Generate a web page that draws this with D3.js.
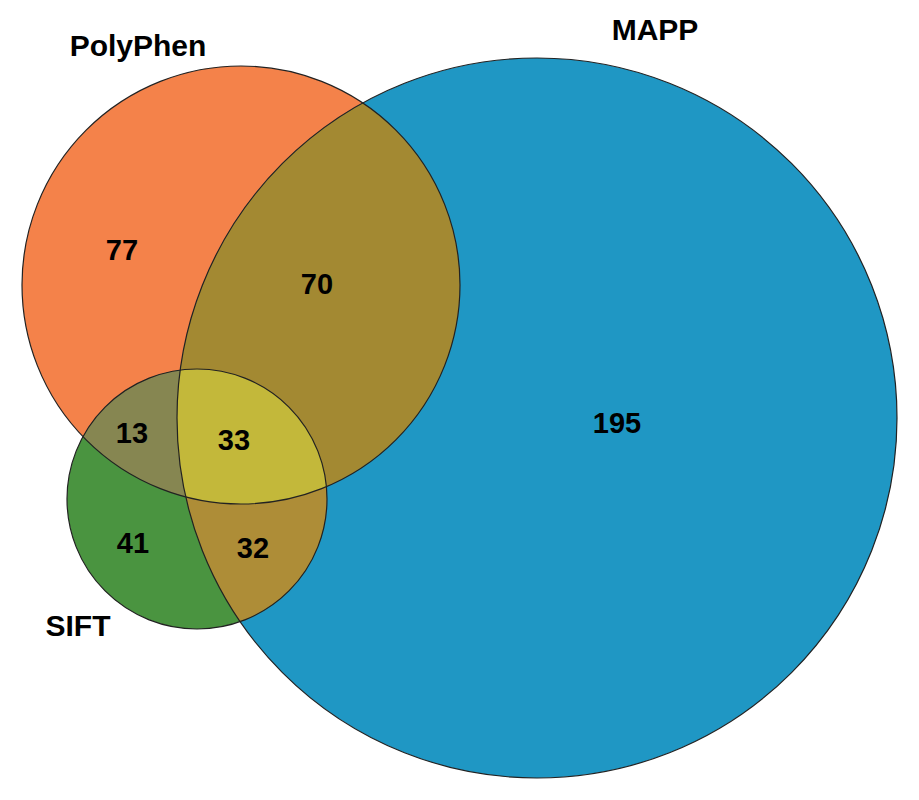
<!DOCTYPE html>
<html><head><meta charset="utf-8">
<script src="https://cdn.jsdelivr.net/npm/d3@7"></script>
<style>body{margin:0;background:#fff}</style></head>
<body><svg id="c"></svg>
<script>
const sets = ['PolyPhen', 'MAPP', 'SIFT'];
const regionKeys = ['P', 'PM', 'M', 'PS', 'PMS', 'S', 'MS'];
const regionCounts = [77, 70, 195, 13, 33, 41, 32];

const width = 919, height = 800;
const svg = d3.select('#c').attr('width', width).attr('height', height);

// layout of circles (pixel space)
const circles = {
  P: { cx: 241, cy: 285, r: 219, color: '#f4824a', label: [138, 48] },
  M: { cx: 537, cy: 418, r: 360, color: '#1f97c4', label: [655, 32] },
  S: { cx: 197, cy: 499, r: 130, color: '#4a9440', label: [78, 628] }
};
const keys = ['P', 'M', 'S'];
const regionColor = { PM: '#a38932', PS: '#868651', MS: '#ae8d37', PMS: '#c3b83a' };
const regionPos = {
  P: [122, 252], PM: [317, 286], M: [617, 425], PS: [132, 435],
  PMS: [234, 442], S: [133, 545], MS: [253, 550]
};

const defs = svg.append('defs');
keys.forEach(k => {
  const c = circles[k];
  defs.append('clipPath').attr('id', 'clip' + k)
    .append('circle').attr('cx', c.cx).attr('cy', c.cy).attr('r', c.r);
});

// base circles
svg.append('g').selectAll('circle').data(keys).join('circle')
  .attr('cx', k => circles[k].cx).attr('cy', k => circles[k].cy).attr('r', k => circles[k].r)
  .attr('fill', k => circles[k].color);

// overlaps via nested clips
function overlap(a, b, color) {
  const c = circles[b];
  return svg.append('g').attr('clip-path', 'url(#clip' + a + ')')
    .append('circle').attr('cx', c.cx).attr('cy', c.cy).attr('r', c.r).attr('fill', color);
}
overlap('P', 'M', regionColor.PM);
overlap('P', 'S', regionColor.PS);
overlap('M', 'S', regionColor.MS);
svg.append('g').attr('clip-path', 'url(#clipP)')
  .append('g').attr('clip-path', 'url(#clipM)')
  .append('circle').attr('cx', circles.S.cx).attr('cy', circles.S.cy).attr('r', circles.S.r)
  .attr('fill', regionColor.PMS);

// outlines
svg.append('g').selectAll('circle').data(keys).join('circle')
  .attr('cx', k => circles[k].cx).attr('cy', k => circles[k].cy).attr('r', k => circles[k].r)
  .attr('fill', 'none').attr('stroke', '#222').attr('stroke-width', 1.2);

// counts
svg.append('g').selectAll('text').data(regionKeys).join('text')
  .attr('x', k => regionPos[k][0]).attr('y', k => regionPos[k][1])
  .attr('text-anchor', 'middle').attr('dominant-baseline', 'middle')
  .style('font', 'bold 29px "Liberation Sans", Arial, sans-serif')
  .text((k, i) => regionCounts[i]);

// set labels
svg.append('g').selectAll('text').data(keys).join('text')
  .attr('x', k => circles[k].label[0]).attr('y', k => circles[k].label[1])
  .attr('text-anchor', 'middle').attr('dominant-baseline', 'middle')
  .style('font', 'bold 30px "Liberation Sans", Arial, sans-serif')
  .text((k, i) => sets[i]);
</script></body></html>
